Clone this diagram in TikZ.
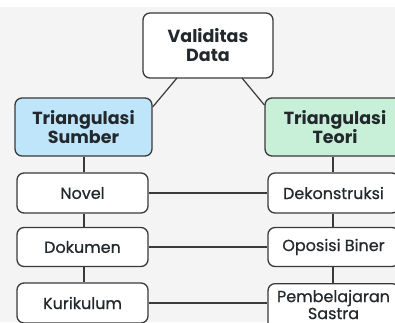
\documentclass[tikz,border=0pt]{standalone}
\usepackage{fontspec}
\setmainfont{Poppins}
\newfontfamily\medfont[FakeBold=0.6]{Poppins}
\definecolor{bg}{HTML}{F4F4F4}
\definecolor{edge}{HTML}{3A3A3A}
\definecolor{ink}{HTML}{23282C}
\definecolor{sumberblue}{HTML}{BEE5F9}
\definecolor{teorigreen}{HTML}{C8F0D8}
\tikzset{
  box/.style={draw=edge, line width=1.3pt, rounded corners=7pt, fill=white,
    text=ink, align=center, inner sep=0pt, font=\medfont\fontsize{16}{17}\selectfont},
  headbox/.style={box, font=\fontsize{17.5}{19}\selectfont\bfseries},
  link/.style={draw=edge, line width=1.2pt}
}
\begin{document}
\begin{tikzpicture}[x=1pt,y=-1pt]
\useasboundingbox (0,0) rectangle (395,322);
\clip (0,0) rectangle (395,322);
\fill[bg] (0,7) rectangle (395,322);
\fill[white] (0,0) rectangle (395,7);
% header
\node[headbox, minimum width=130pt, minimum height=65pt] (val) at (208,45.5) {Validitas\\Data};
\node[headbox, fill=sumberblue, minimum width=137pt, minimum height=58pt] (sum) at (83.5,127) {Triangulasi\\Sumber};
\node[headbox, fill=teorigreen, minimum width=140pt, minimum height=58pt] (teo) at (335,127) {Triangulasi\\Teori};
% left column
\node[box, minimum width=131pt, minimum height=40pt] (nov) at (82.5,193) {Novel};
\node[box, minimum width=131pt, minimum height=39pt] (dok) at (82.5,247) {Dokumen};
\node[box, minimum width=131pt, minimum height=40pt] (kur) at (82.5,303) {Kurikulum};
% right column
\node[box, minimum width=131pt, minimum height=40pt] (dek) at (333.5,193) {Dekonstruksi};
\node[box, minimum width=131pt, minimum height=39pt] (opo) at (333.5,247) {Oposisi Biner};
\node[box, minimum width=131pt, minimum height=52pt, anchor=north] (pem) at (333.5,283) {\\[-15pt]Pembelajaran\\Sastra};
% connectors
\coordinate (v1) at (177,78);
\coordinate (v2) at (242,78);
\draw[link] (v1) -- (sum.east |- 0,107);
\draw[link] (v2) -- (teo.west |- 0,105);
\draw[link] (sum.south -| 84,0) -- (nov.north -| 84,0);
\draw[link] (nov.south -| 84,0) -- (dok.north -| 84,0);
\draw[link] (dok.south -| 84,0) -- (kur.north -| 84,0);
\draw[link] (teo.south -| 333,0) -- (dek.north -| 333,0);
\draw[link] (dek.south -| 333,0) -- (opo.north -| 333,0);
\draw[link] (opo.south -| 333,0) -- (pem.north -| 333,0);
\draw[link] (nov.east) -- (dek.west);
\draw[link] (dok.east) -- (opo.west);
\draw[link] (kur.east) -- (pem.west |- kur.east);
\end{tikzpicture}
\end{document}
